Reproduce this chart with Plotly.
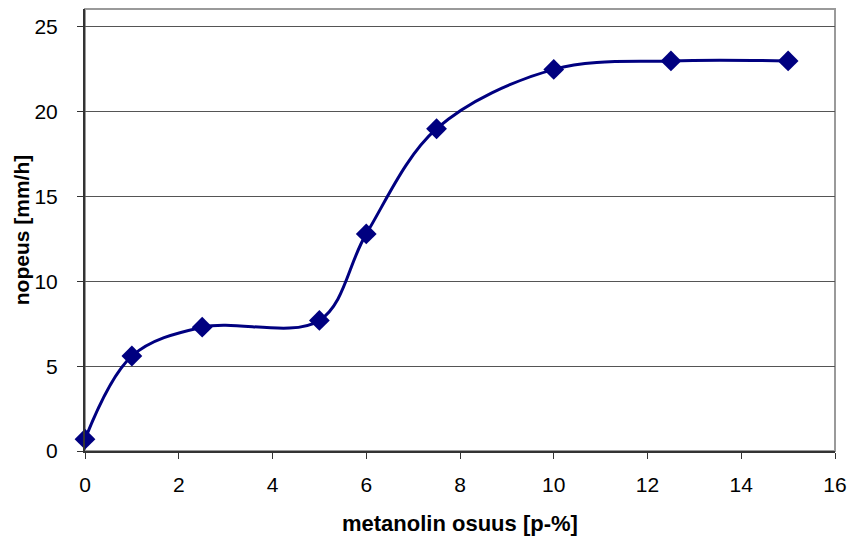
import plotly.graph_objects as go

x_vals = [0, 1, 2.5, 5, 6, 7.5, 10, 12.5, 15]
y_vals = [0.7, 5.6, 7.3, 7.7, 12.8, 19.0, 22.5, 23.0, 23.0]
x_ticks = [0, 2, 4, 6, 8, 10, 12, 14, 16]
y_ticks = [0, 5, 10, 15, 20, 25]
x_title = "metanolin osuus [p-%]"
y_title = "nopeus [mm/h]"

navy = "#000080"
font = "Liberation Sans, Arial, sans-serif"

fig = go.Figure()
fig.add_trace(go.Scatter(
    x=x_vals, y=y_vals, mode="lines+markers",
    line=dict(color=navy, width=3, shape="spline", smoothing=1.0),
    marker=dict(symbol="diamond", size=16, color=navy),
    showlegend=False, cliponaxis=False,
))

fig.update_layout(
    width=856, height=538,
    margin=dict(l=85, r=15, t=9, b=87),
    paper_bgcolor="white", plot_bgcolor="white",
    font=dict(family=font, size=21, color="black"),
    shapes=[dict(type="rect", xref="paper", yref="paper", x0=0, y0=0, x1=1, y1=1,
                 line=dict(color="#9a9a9a", width=2), layer="below")],
    annotations=[
        dict(text="<b>" + x_title + "</b>", xref="paper", yref="paper",
             x=0.5, y=-0.163, xanchor="center", yanchor="middle",
             showarrow=False, font=dict(size=22)),
        dict(text="<b>" + y_title + "</b>", xref="paper", yref="paper",
             x=-0.085, y=0.5, xanchor="center", yanchor="middle", textangle=-90,
             showarrow=False, font=dict(size=21)),
    ],
)
fig.update_xaxes(
    range=[0, 16], tickvals=x_ticks, ticks="outside", ticklen=6, tickwidth=1,
    tickcolor="#333333", showline=True, linecolor="#333333", linewidth=2,
    showgrid=False, zeroline=False, ticklabelstandoff=8,
)
fig.update_yaxes(
    range=[0, 26.06], tickvals=y_ticks, ticks="outside", ticklen=6, tickwidth=1,
    tickcolor="#333333", showline=True, linecolor="#333333", linewidth=2,
    showgrid=True, gridcolor="#555555", gridwidth=1, zeroline=False,
    ticklabelstandoff=15,
)

fig.write_html("out.html")
